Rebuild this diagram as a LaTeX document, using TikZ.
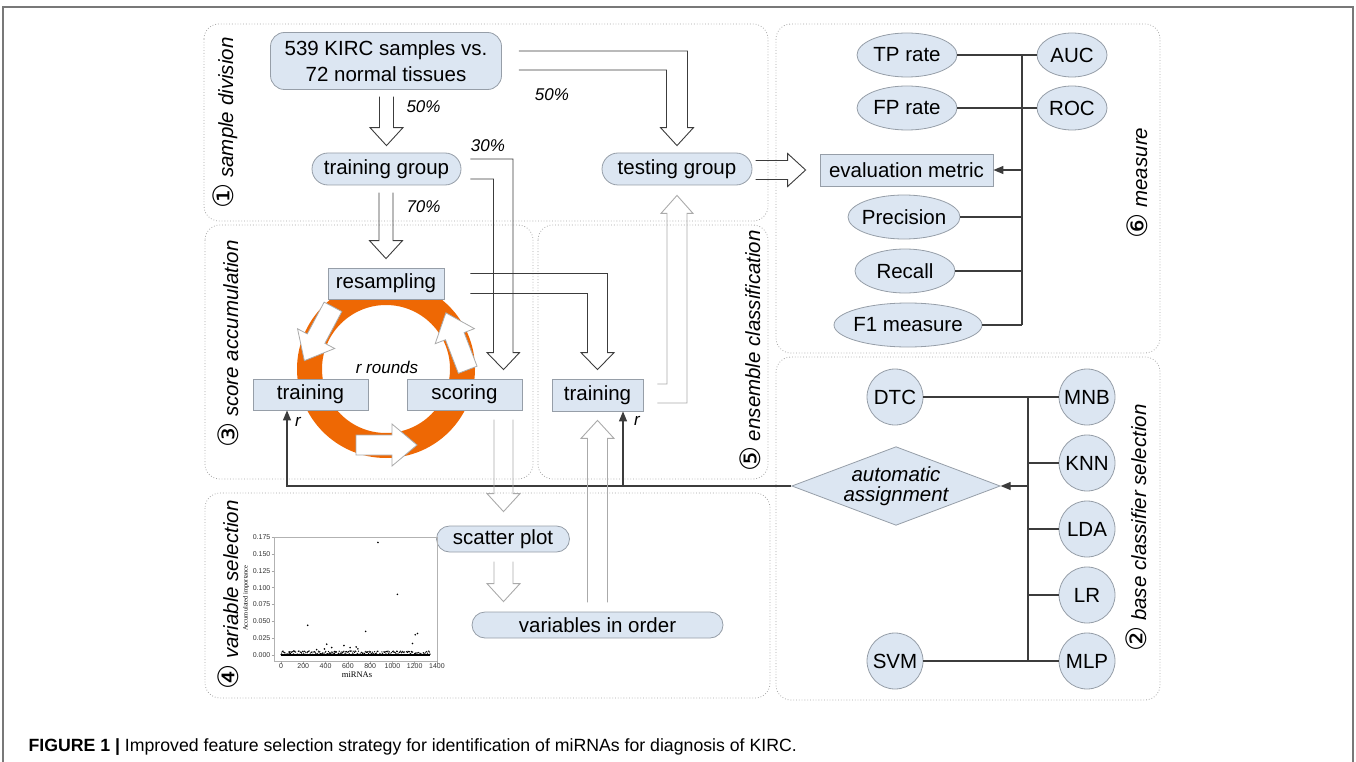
\documentclass[tikz,border=0pt]{standalone}
\usepackage{fontspec}
\setmainfont{Liberation Sans}
\newfontfamily\symfont{DejaVu Sans}
\newfontfamily\plotserif{Liberation Serif}
\usetikzlibrary{arrows.meta,shapes.geometric,calc}

\definecolor{nodefill}{RGB}{220,230,242}
\definecolor{nodeline}{RGB}{150,158,168}
\definecolor{darkline}{RGB}{60,60,60}
\definecolor{lightline}{RGB}{170,170,170}
\definecolor{panelline}{RGB}{165,165,165}
\definecolor{ringorange}{RGB}{238,104,4}
\definecolor{framegray}{RGB}{120,120,120}

\tikzset{
  base/.style={fill=nodefill,draw=nodeline,line width=0.8pt,inner sep=0pt,
               font=\fontsize{20.5}{26}\selectfont,align=center},
  pill/.style={base,rectangle,rounded corners=14pt},
  plainbox/.style={base,rectangle},
  oval/.style={base,ellipse,inner xsep=-15pt,inner ysep=0pt,
               minimum height=44pt,minimum width=#1},
  oval/.default=100pt,
  ball/.style={base,circle,minimum size=56pt},
  choice/.style={base,diamond,aspect=2.65,minimum width=207pt,minimum height=78pt,
                 font=\fontsize{20.5}{20}\selectfont\itshape},
  panel/.style={draw=panelline,dotted,line width=0.8pt,rounded corners=15pt},
  title/.style={rotate=90,font=\fontsize{20.5}{24}\selectfont\itshape},
  pct/.style={font=\fontsize{17}{20}\selectfont\itshape},
  link/.style={draw=darkline,line width=1.2pt},
  linkarrow/.style={link,-{Triangle[length=10pt,width=8pt]}},
  hollow/.style={color=darkline,line width=0.9pt},
  faint/.style={color=lightline,line width=0.9pt},
  tick/.style={font=\fontsize{7}{8}\selectfont,text=black!80,inner sep=1pt},
  pics/hdown/.style 2 args={code={
    \draw (-#2,-#1) -- (-#2,-18) -- (-16.5,-18) -- (0,0) -- (16.5,-18)
          -- (#2,-18) -- (#2,-#1);}},
  pics/ringarrow/.style={code={
    \draw[fill=white,draw=lightline,line width=0.8pt] (-30,-10) -- (6,-10) -- (6,-21)
          -- (31,0) -- (6,21) -- (6,10) -- (-30,10) -- cycle;}},
}

\begin{document}
\begin{tikzpicture}[x=1pt,y=-1pt]
  \useasboundingbox (0,0) rectangle (1356,762);
  \draw[framegray,line width=1.5pt] (3,762) -- (3,7) -- (1353,7) -- (1353,762);

  % panels
  \draw[panel] (204,24) rectangle (768,221);
  \draw[panel] (205,225) rectangle (533,479);
  \draw[panel] (538,225) rectangle (768,479);
  \draw[panel] (205,493) rectangle (770,698);
  \draw[panel] (776,24) rectangle (1160,353);
  \draw[panel] (776,357) rectangle (1160,700);

  \node[title] (ttlone)   at (225,123) {{\upshape\fontsize{28}{28}\symfont ①} sample division};
  \node[title] (ttlthree) at (228,344) {{\upshape\fontsize{28}{28}\symfont ③} score accumulation};
  \node[title] (ttlfour)  at (228,595) {{\upshape\fontsize{28}{28}\symfont ④} variable selection};
  \node[title] (ttlfive)  at (750,351) {{\upshape\fontsize{28}{28}\symfont ⑤} ensemble classification};
  \node[title] (ttlsix)   at (1137,183) {{\upshape\fontsize{28}{28}\symfont ⑥} measure};
  \node[title] (ttltwo)   at (1136,528) {{\upshape\fontsize{28}{28}\symfont ②} base classifier selection};

  % resampling loop
  \fill[ringorange,even odd rule] (386,369) circle (89pt) circle (64pt);
  \foreach \a in {152,270,21}
    \pic[rotate=\a+90] at ({386+76*cos(\a)},{369-76*sin(\a)}) {ringarrow};
  \node[pct] (rounds) at (387,367) {r rounds};

  % nodes
  \node[pill,minimum width=231pt,minimum height=57pt] (kirc) at (386,61) {539 KIRC samples vs.\\72 normal tissues};
  \node[pill,minimum width=149pt,minimum height=32pt,rounded corners=16pt] (trgroup) at (386.5,169) {training group};
  \node[pill,minimum width=150pt,minimum height=32pt,rounded corners=16pt] (tsgroup) at (677,169) {testing group};
  \node[plainbox,minimum width=116pt,minimum height=31pt] (resample) at (386,283.5) {resampling};
  \node[plainbox,minimum width=115pt,minimum height=31pt] (scoretrain) at (310.5,394.5) {training};
  \node[plainbox,minimum width=115pt,minimum height=31pt] (scoring) at (464.5,394.5) {scoring};
  \node[plainbox,minimum width=91pt,minimum height=32pt] (enstrain) at (597.5,395) {training};
  \node[pill,minimum width=133pt,minimum height=26pt,rounded corners=13pt] (scatter) at (503,539) {scatter plot};
  \node[pill,minimum width=251pt,minimum height=26pt,rounded corners=13pt] (varorder) at (597.5,625) {variables in order};
  \node[plainbox,minimum width=173pt,minimum height=32pt] (evalm) at (906.5,170) {evaluation metric};

  \node[oval] (tprate) at (907,55) {TP rate};
  \node[oval] (fprate) at (907,108) {FP rate};
  \node[oval=70pt] (auc) at (1072,55) {AUC};
  \node[oval=70pt] (roc) at (1072,108) {ROC};
  \node[oval=112pt] (prec) at (904,217) {Precision};
  \node[oval] (recall) at (905,271) {Recall};
  \node[oval=148pt] (fone) at (908,325) {F1 measure};

  \node[ball] (dtc) at (895,397) {DTC};
  \node[ball] (svm) at (895,661) {SVM};
  \node[ball] (mnb) at (1087,397) {MNB};
  \node[ball] (knn) at (1087,463) {KNN};
  \node[ball] (lda) at (1087,529) {LDA};
  \node[ball] (lr)  at (1087,595) {LR};
  \node[ball] (mlp) at (1087,661) {MLP};
  \node[choice] (assign) at (896,486) {automatic\\assignment};

  % measure wiring
  \coordinate (mtop) at (1022,55);
  \coordinate (mbot) at (1022,325);
  \draw[link] (tprate) -- (auc);
  \draw[link] (fprate) -- (roc);
  \draw[link] (mtop) -- (mbot);
  \foreach \n in {prec,recall,fone}
    \draw[link] (\n.east) -- (\n.east -| mtop);
  \draw[linkarrow] (evalm.east -| mtop) -- (evalm.east);

  % classifier wiring
  \coordinate (ctop) at (1028,397);
  \coordinate (cbot) at (1028,661);
  \draw[link] (dtc) -- (mnb);
  \draw[link] (svm) -- (mlp);
  \draw[link] (ctop) -- (cbot);
  \foreach \n in {knn,lda,lr}
    \draw[link] (\n.west) -- (\n.west -| ctop);
  \draw[linkarrow] (assign.east -| ctop) -- (assign.east);

  \coordinate (rbranch) at (623,486);
  \draw[linkarrow] (assign.west) -| ($(scoretrain.south)+(-23.5,0)$);
  \draw[linkarrow] (rbranch) -- (rbranch |- enstrain.south);
  \node[pct] (rone) at (298,422) {r};
  \node[pct] (rtwo) at (637,421) {r};

  % hollow arrows
  \pic[hollow] at ($(trgroup.north)+(0,-7)$) {hdown={49}{7}};
  \node[pct,anchor=west] (pcttrain) at (403,107) {50\%};
  \pic[hollow] at ($(resample.north)+(0,-9)$) {hdown={66}{7}};
  \node[pct,anchor=west] (pctresample) at (403,207) {70\%};

  \draw[hollow] ($(kirc.east)+(17,-10)$) -| ($(tsgroup.north)+(10.5,-25)$) -- ++(6,0)
    -- ($(tsgroup.north)+(0,-7)$) -- ++(-16.5,-18) -- ++(6,0) |- ($(kirc.east)+(17,9)$);
  \node[pct] (pcttest) at (552,95) {50\%};

  \draw[hollow] ($(trgroup.east)+(9,-10)$) -| ($(scoring.north)+(48.5,-26)$) -- ++(6.5,0)
    -- ($(scoring.north)+(39,-9)$) -- ++(-16.5,-17) -- ++(6.5,0) |- ($(trgroup.east)+(9,10)$);
  \node[pct] (pctscore) at (488,146) {30\%};

  \draw[hollow] ($(resample.east)+(26,-10)$) -| ($(enstrain.north)+(10,-26)$) -- ++(6.5,0)
    -- ($(enstrain.north)+(0,-9)$) -- ++(-16.5,-17) -- ++(6.5,0) |- ($(resample.east)+(26,10)$);

  \pic[hollow,rotate=90] at ($(evalm.west)+(-14,0)$) {hdown={50}{9.5}};

  \pic[faint] at ($(scatter.north)+(0.5,-14)$) {hdown={92}{9.5}};
  \pic[faint] at ($(varorder.north)+(-94,-10)$) {hdown={40}{9.5}};
  \pic[faint,rotate=180] at ($(enstrain.south)+(0,9)$) {hdown={182}{10}};
  \draw[faint] ($(enstrain.east)+(14,-11)$) -| ($(tsgroup.south)+(-10,28)$) -- ++(-6,0)
    -- ($(tsgroup.south)+(0,10)$) -- ++(16,18) -- ++(-6,0) |- ($(enstrain.east)+(14,8)$);

  % scatter plot of accumulated importance
  \draw[gray!60,line width=0.6pt] (274,537) rectangle (437,661);
  \foreach \v/\t [count=\i] in {0/0.000,0.025/0.025,0.05/0.050,0.075/0.075,
                                0.1/0.100,0.125/0.125,0.15/0.150,0.175/0.175}{
    \draw[gray!70,line width=0.5pt] (271.5,{655-\v*674}) -- (274,{655-\v*674});
    \node[tick,anchor=east] (yt\i) at (271.5,{655-\v*674}) {\t};
  }
  \foreach \d in {0,200,...,1400}{
    \draw[gray!70,line width=0.5pt] ({281+\d*0.1114},661) -- ({281+\d*0.1114},663.5);
    \node[tick,anchor=north] (xt\d) at ({281+\d*0.1114},662.5) {\d};
  }
  \node[font=\fontsize{8.5}{9}\selectfont\plotserif] (xlab) at (357,675) {miRNAs};
  \node[rotate=90,font=\fontsize{6.5}{7}\selectfont\plotserif] (ylab) at (246,598) {Accumulated importance};
  \pgfmathsetseed{7}
  \fill (281,653.5) rectangle (430,656);
  \foreach \d in {0,6,...,1340}
    \fill ({281+\d*0.1114},{655-rnd*4}) circle (0.7pt);
  \foreach \px/\py in {870/0.167,1045/0.090,240/0.044,760/0.035,1225/0.032,1205/0.030,
                       1180/0.017,410/0.016,565/0.014,675/0.012,690/0.009,620/0.011,
                       455/0.011,320/0.008,390/0.009,115/0.006,480/0.005,75/0.003}
    \fill ({281+\px*0.1114},{655-\py*674}) circle (0.9pt);

  \node[anchor=base west,font=\fontsize{17.7}{20}\selectfont] (caption) at (25,751)
    {\textbf{FIGURE 1 |} Improved feature selection strategy for identification of miRNAs for diagnosis of KIRC.};
\end{tikzpicture}
\end{document}
